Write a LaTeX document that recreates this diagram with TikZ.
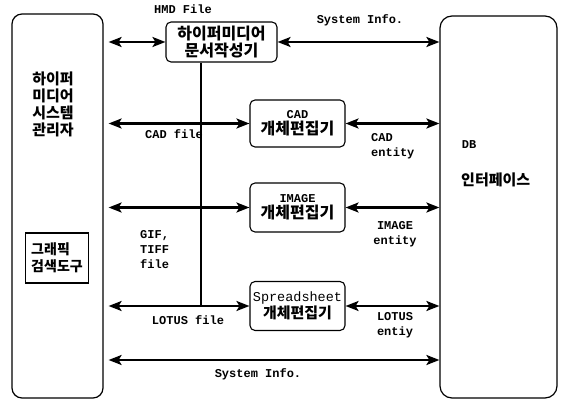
\documentclass[tikz,border=0pt]{standalone}
\usepackage{fontspec}
\setmainfont{Liberation Serif}
\setmonofont{Liberation Mono}
\newfontfamily\kr{Noto Sans CJK KR}
\usetikzlibrary{arrows.meta}

\begin{document}
\begin{tikzpicture}[x=1pt,y=-1pt,
	bigbox/.style={draw,line width=1.2pt,rounded corners=10pt,inner sep=0pt},
	editbox/.style={draw,line width=1.1pt,rounded corners=5pt,minimum width=95pt,align=center,inner sep=1pt},
	link/.style={line width=2.2pt,{Stealth[length=13pt,width=10pt,inset=3pt]}-{Stealth[length=13pt,width=10pt,inset=3pt]}},
	lbl/.style={font=\ttfamily\bfseries\fontsize{12}{15}\selectfont,align=left,inner sep=0pt},
	hangul/.style={font=\kr\bfseries\fontsize{15}{17}\selectfont,inner sep=0pt}]
				% 画布
				\useasboundingbox (0,0) rectangle (562,403);
				
				% 左右两个大框
				\node[bigbox,minimum width=91pt,minimum height=384pt] (hms) at (57.5,206) {};
				\node[bigbox,rounded corners=12pt,minimum width=117pt,minimum height=382pt] (db) at (498.5,207) {};
				\node[hangul,align=left] (hmsname) at (53,104) {하이퍼\\미디어\\시스템\\관리자};
				\node[lbl] (dbname) at (469,145) {DB};
				\node[hangul,anchor=west] (dbkr) at (461,180) {인터페이스};
				
				% 图形检索工具
				\node[draw,line width=1.8pt,minimum width=63pt,minimum height=50pt,inner sep=0pt,
				hangul,font=\kr\bfseries\fontsize{14}{17}\selectfont,align=left] (search) at (57,258) {그래픽\\검색도구};
				
				% 中间的编辑器
				\node[editbox,minimum width=111pt,minimum height=40pt,hangul,font=\kr\bfseries\fontsize{16}{17}\selectfont] (editor) at (221.5,42) {하이퍼미디어\\문서작성기};
				\node[editbox,minimum height=47pt] (cad) at (297.5,123.5)
				{\ttfamily\bfseries\fontsize{12}{13}\selectfont CAD\\[1pt]\kr\bfseries\fontsize{16}{17}\selectfont 개체편집기};
				\node[editbox,minimum height=49pt] (image) at (297.5,207.5)
				{\ttfamily\bfseries\fontsize{12}{13}\selectfont IMAGE\\[1pt]\kr\bfseries\fontsize{16}{17}\selectfont 개체편집기};
				\node[editbox,minimum height=49pt] (sheet) at (297.5,306)
				{\ttfamily\fontsize{13.5}{13}\selectfont Spreadsheet\\[1pt]\kr\bfseries\fontsize{15}{17}\selectfont 개체편집기};
				
				% 竖线
				\coordinate (busend) at (201,306);
				\draw[line width=2.5pt] (editor.south -| busend) -- (busend);
				
				% 双向箭头
				\draw[link,shorten <=5pt] (hms.east |- editor) -- (editor.west);
				\draw[link] (editor.east) -- (editor.east -| db.west);
				\draw[link,shorten <=5pt] (hms.east |- cad) -- (cad.west);
				\draw[link] (cad.east) -- (cad.east -| db.west);
				\draw[link,shorten <=5pt] (hms.east |- image) -- (image.west);
				\draw[link] (image.east) -- (image.east -| db.west);
				\draw[link,shorten <=5pt] (hms.east |- sheet) -- (sheet.west);
				\draw[link] (sheet.east) -- (sheet.east -| db.west);
				\coordinate (sysinfo) at (0,360);
				\draw[link,shorten <=5pt] (hms.east |- sysinfo) -- (db.west |- sysinfo);
				
				% 标签
				\node[lbl] (hmdlbl) at (183,9) {HMD File};
				\node[lbl] (toplbl) at (360,20) {System Info.};
				\node[lbl] (cadlbl) at (174,134) {CAD file};
				\node[lbl,anchor=north west] (cadent) at (371,133) {CAD\\entity};
				\node[lbl,anchor=north west] (giflbl) at (140,230) {GIF,\\TIFF\\file};
				\node[lbl,align=center,anchor=north] (imgent) at (395,221) {IMAGE\\entity};
				\node[lbl] (lotuslbl) at (188,320) {LOTUS file};
				\node[lbl,align=center,anchor=north] (lotent) at (395,312) {LOTUS\\entiy};
				\node[lbl] (botlbl) at (258,374) {System Info.};
				
\end{tikzpicture}
\end{document}
